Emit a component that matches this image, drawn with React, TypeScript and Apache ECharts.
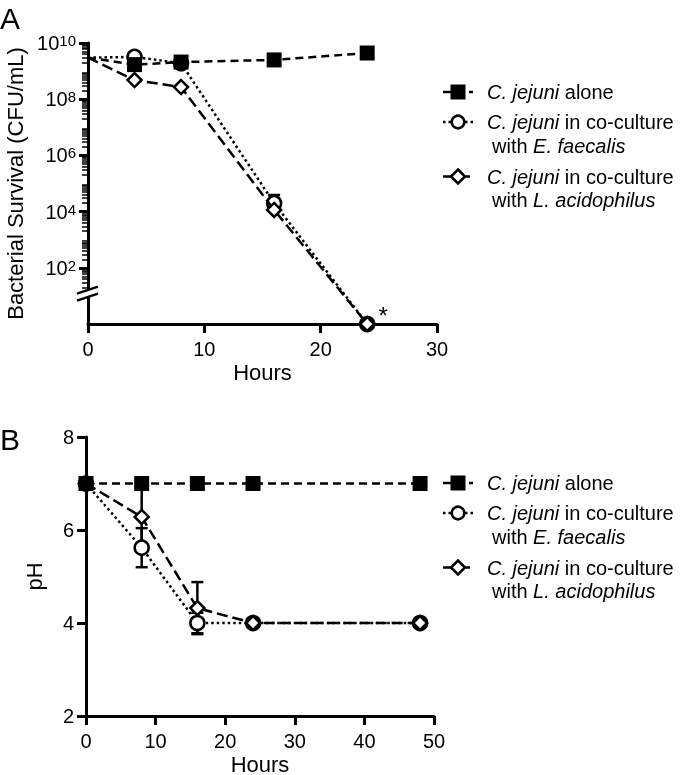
import React, { useEffect, useRef } from 'react';
import * as echarts from 'echarts';

const FONT = '"Liberation Sans", Arial, Helvetica, sans-serif';

// ---------- Panel A: bacterial survival (CFU/mL) ----------
const hoursA = [0, 4, 8, 16, 24];
const cfuAloneA = [3.0e9, 1.7e9, 2.1e9, 2.5e9, 4.4e9];
const cfuFaecalisA = [3.0e9, 3.2e9, 1.9e9, 2.0e4, 0];
const cfuAcidA = [3.0e9, 4.8e8, 2.7e8, 1.15e4, 0];
const errHoursA = [16];
const errFaecalisLowA = [1.2e4];
const errFaecalisHighA = [3.9e4];
const yExpTicksA = [2, 4, 6, 8, 10];
const xTicksMaxA = 30;

// ---------- Panel B: pH ----------
const hoursB = [0, 8, 16, 24, 48];
const phAloneB = [7, 7, 7, 7, 7];
const phFaecalisB = [7, 5.62, 4.0, 4.0, 4.0];
const phFaecalisSdB = [0, 0.42, 0.22, 0, 0];
const phAcidB = [7, 6.28, 4.32, 4.0, 4.0];
const phAcidSdB = [0, 0.6, 0.56, 0, 0];

const legendAlone = '{i|C. jejuni} alone';
const legendFaecalis = ['{i|C. jejuni} in co-culture', 'with {i|E. faecalis}'];
const legendAcid = ['{i|C. jejuni} in co-culture', 'with {i|L. acidophilus}'];

const toLog = (v: number) => (v > 0 ? Math.log10(v) : 0);

const minorTicksA: number[] = [];
for (let d = 1; d < 10; d++) {
  for (let k = 2; k <= 9; k++) {
    const v = d + Math.log10(k);
    if (v > 1.2) minorTicksA.push(v);
  }
}

const DASH_ALONE = [8, 5];
const DASH_ACID = [11, 5];
const DASH_FAEC = [2.5, 3];
const LW = 2.5;
const LEG_FS = 20;

const axisCommon = {
  axisLine: { lineStyle: { color: '#000', width: 3 } },
  axisTick: { length: 9, lineStyle: { color: '#000', width: 3 } },
  axisLabel: { color: '#000', fontSize: 20, fontFamily: FONT, margin: 12 },
  splitLine: { show: false },
  nameTextStyle: { color: '#000', fontSize: 22, fontFamily: FONT },
};
const xLabel = { ...axisCommon.axisLabel, margin: 15 };

const richItalic = { i: { fontStyle: 'italic', fontSize: LEG_FS, fontFamily: FONT, fill: '#000' } };

function legendGraphic(y0: number): any[] {
  const out: any[] = [];
  const rows = [
    { y: y0, kind: 'rect', dash: DASH_ALONE, lines: [legendAlone] },
    { y: y0 + 30, kind: 'circle', dash: DASH_FAEC, lines: legendFaecalis },
    { y: y0 + 84.5, kind: 'diamond', dash: DASH_ACID, lines: legendAcid },
  ];
  rows.forEach((r) => {
    out.push({
      type: 'line',
      shape: { x1: 443, y1: r.y, x2: 473, y2: r.y },
      style: { stroke: '#000', lineWidth: LW, lineDash: r.dash },
    });
    if (r.kind === 'rect') {
      out.push({ type: 'rect', shape: { x: 450.5, y: r.y - 7.5, width: 15, height: 15 }, style: { fill: '#000' } });
    } else if (r.kind === 'circle') {
      out.push({ type: 'circle', shape: { cx: 458, cy: r.y, r: 6.3 }, style: { fill: '#fff', stroke: '#000', lineWidth: LW } });
    } else {
      out.push({
        type: 'polygon',
        shape: { points: [[458, r.y - 7], [465, r.y], [458, r.y + 7], [451, r.y]] },
        style: { fill: '#fff', stroke: '#000', lineWidth: LW },
      });
    }
    r.lines.forEach((t, j) => {
      out.push({
        type: 'text',
        x: j === 0 ? 487 : 492,
        y: r.y + j * 23.5,
        style: {
          text: t,
          rich: richItalic,
          fontSize: LEG_FS,
          fontFamily: FONT,
          fill: '#000',
          verticalAlign: 'middle',
        },
      });
    });
  });
  return out;
}

function errorSeries(xIdx: number, yIdx: number, data: number[][]) {
  return {
    type: 'custom',
    xAxisIndex: xIdx,
    yAxisIndex: yIdx,
    z: 1,
    silent: true,
    clip: false,
    encode: { x: 0, y: [1, 2] },
    data,
    renderItem: (params: any, api: any) => {
      const x = api.value(0);
      const lo = api.coord([x, api.value(1)]);
      const hi = api.coord([x, api.value(2)]);
      const w = 6;
      const st = { stroke: '#000', lineWidth: LW };
      return {
        type: 'group',
        children: [
          { type: 'line', shape: { x1: hi[0], y1: hi[1], x2: lo[0], y2: lo[1] }, style: st },
          { type: 'line', shape: { x1: hi[0] - w, y1: hi[1], x2: hi[0] + w, y2: hi[1] }, style: st },
          { type: 'line', shape: { x1: lo[0] - w, y1: lo[1], x2: lo[0] + w, y2: lo[1] }, style: st },
        ],
      };
    },
  };
}

const circleStyle = { color: '#fff', borderColor: '#000', borderWidth: LW };
const squareStyle = { color: '#000', borderWidth: 0 };

export default function App() {
  const ref = useRef<HTMLDivElement>(null);
  useEffect(() => {
    if (!ref.current) return;
    const chart = echarts.init(ref.current, undefined, { renderer: 'svg' });

    const seriesA = (vals: number[], hideFirst: boolean) =>
      hoursA.map((h, i) =>
        hideFirst && i === 0 ? { value: [h, toLog(vals[i])], symbol: 'none' } : { value: [h, toLog(vals[i])] }
      );

    const faecA: any[] = seriesA(cfuFaecalisA, true);
    faecA[4] = {
      ...faecA[4],
      label: {
        show: true,
        formatter: '*',
        position: 'right',
        distance: 3,
        offset: [0, -9],
        fontSize: 24,
        fontFamily: FONT,
        color: '#000',
      },
    };

    const option: any = {
      animation: false,
      textStyle: { fontFamily: FONT },
      grid: [
        { left: 88, top: 43, width: 349, height: 281, outerBoundsMode: 'none', containLabel: false },
        { left: 86, top: 437, width: 348, height: 279, outerBoundsMode: 'none', containLabel: false },
      ],
      xAxis: [
        {
          ...axisCommon,
          axisLabel: xLabel,
          gridIndex: 0,
          type: 'value',
          min: 0,
          max: xTicksMaxA,
          interval: 10,
          name: 'Hours',
          nameLocation: 'middle',
          nameGap: 37,
        },
        {
          ...axisCommon,
          axisLabel: xLabel,
          gridIndex: 1,
          type: 'value',
          min: 0,
          max: 50,
          interval: 10,
          name: 'Hours',
          nameLocation: 'middle',
          nameGap: 37,
        },
      ],
      yAxis: [
        {
          ...axisCommon,
          gridIndex: 0,
          type: 'value',
          min: 0,
          max: 10,
          axisTick: { ...axisCommon.axisTick, customValues: yExpTicksA },
          axisLabel: {
            ...axisCommon.axisLabel,
            customValues: yExpTicksA,
            formatter: (v: number) => `{b|10}{s|${v}}`,
            rich: {
              b: { fontSize: 20, fontFamily: FONT, color: '#000', verticalAlign: 'bottom', lineHeight: 20 },
              s: {
                fontSize: 15,
                fontFamily: FONT,
                color: '#000',
                verticalAlign: 'top',
                lineHeight: 15,
                padding: [0, 0, 8, 0],
              },
            },
          },
          name: 'Bacterial Survival (CFU/mL)',
          nameLocation: 'middle',
          nameRotate: 90,
          nameGap: 57,
        },
        {
          gridIndex: 0,
          type: 'value',
          min: 0,
          max: 10,
          position: 'left',
          axisLine: { show: false },
          axisLabel: { show: false },
          splitLine: { show: false },
          axisTick: { show: true, customValues: minorTicksA, length: 6, lineStyle: { color: '#000', width: 1.5 } },
        },
        {
          ...axisCommon,
          gridIndex: 1,
          type: 'value',
          min: 2,
          max: 8,
          interval: 2,
          name: 'pH',
          nameLocation: 'middle',
          nameRotate: 90,
          nameGap: 41,
        },
      ],
      series: [
        errorSeries(0, 0, errHoursA.map((h, i) => [h, toLog(errFaecalisLowA[i]), toLog(errFaecalisHighA[i])])),
        {
          type: 'line',
          xAxisIndex: 0,
          yAxisIndex: 0,
          data: faecA,
          symbol: 'circle',
          symbolSize: 14,
          itemStyle: circleStyle,
          lineStyle: { color: '#000', width: LW, type: DASH_FAEC },
          clip: false,
          silent: true,
          z: 3,
        },
        {
          type: 'line',
          xAxisIndex: 0,
          yAxisIndex: 0,
          data: seriesA(cfuAcidA, true),
          symbol: 'diamond',
          symbolSize: 14,
          itemStyle: circleStyle,
          lineStyle: { color: '#000', width: LW, type: DASH_ACID },
          clip: false,
          silent: true,
          z: 4,
        },
        {
          type: 'line',
          xAxisIndex: 0,
          yAxisIndex: 0,
          data: seriesA(cfuAloneA, true),
          symbol: 'rect',
          symbolSize: 15,
          itemStyle: squareStyle,
          lineStyle: { color: '#000', width: LW, type: DASH_ALONE },
          clip: false,
          silent: true,
          z: 5,
        },
        errorSeries(1, 2, hoursB.map((h, i) => [h, phFaecalisB[i] - phFaecalisSdB[i], phFaecalisB[i] + phFaecalisSdB[i]]).filter((d, i) => phFaecalisSdB[i] > 0)),
        errorSeries(1, 2, hoursB.map((h, i) => [h, phAcidB[i] - phAcidSdB[i], phAcidB[i] + phAcidSdB[i]]).filter((d, i) => phAcidSdB[i] > 0)),
        {
          type: 'line',
          xAxisIndex: 1,
          yAxisIndex: 2,
          data: hoursB.map((h, i) => [h, phFaecalisB[i]]),
          symbol: 'circle',
          symbolSize: 14,
          itemStyle: circleStyle,
          lineStyle: { color: '#000', width: LW, type: DASH_FAEC },
          clip: false,
          silent: true,
          z: 3,
        },
        {
          type: 'line',
          xAxisIndex: 1,
          yAxisIndex: 2,
          data: hoursB.map((h, i) => [h, phAcidB[i]]),
          symbol: 'diamond',
          symbolSize: 14,
          itemStyle: circleStyle,
          lineStyle: { color: '#000', width: LW, type: DASH_ACID },
          clip: false,
          silent: true,
          z: 4,
        },
        {
          type: 'line',
          xAxisIndex: 1,
          yAxisIndex: 2,
          data: hoursB.map((h, i) => [h, phAloneB[i]]),
          symbol: 'rect',
          symbolSize: 15,
          itemStyle: squareStyle,
          lineStyle: { color: '#000', width: LW, type: DASH_ALONE },
          clip: false,
          silent: true,
          z: 5,
        },
      ],
    };
    chart.setOption(option);

    // axis break marks on panel A's y axis
    const p = chart.convertToPixel({ xAxisIndex: 0, yAxisIndex: 0 }, [0, 1.1]) as number[];
    const bx = p[0];
    const by = p[1];
    const graphic: any[] = [
      { type: 'text', x: 0, y: 3, style: { text: 'A', fontSize: 30, fontFamily: FONT, fill: '#000' } },
      { type: 'text', x: 0, y: 424, style: { text: 'B', fontSize: 30, fontFamily: FONT, fill: '#000' } },
      { type: 'rect', shape: { x: bx - 4, y: by - 3.5, width: 8, height: 7 }, style: { fill: '#fff' }, z: 100 },
      { type: 'line', shape: { x1: bx - 11, y1: by + 0.5, x2: bx + 10, y2: by - 6.5 }, style: { stroke: '#000', lineWidth: 2.5 }, z: 101 },
      { type: 'line', shape: { x1: bx - 11, y1: by + 7.5, x2: bx + 10, y2: by + 0.5 }, style: { stroke: '#000', lineWidth: 2.5 }, z: 101 },
      ...legendGraphic(92),
      ...legendGraphic(483),
    ];
    chart.setOption({ graphic });

    return () => chart.dispose();
  }, []);

  return <div ref={ref} style={{ position: 'fixed', left: 0, top: 0, width: 680, height: 775 }} />;
}
